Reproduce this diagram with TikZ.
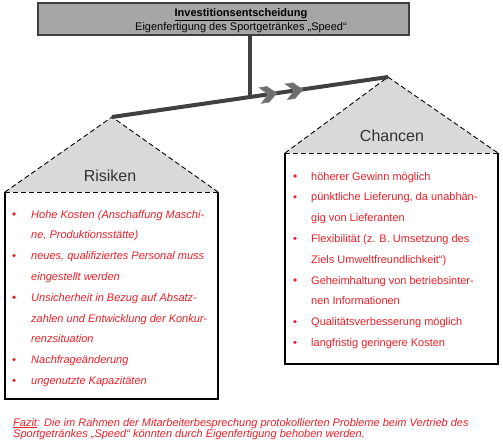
\documentclass[tikz,border=0pt]{standalone}
\usepackage{fontspec}
\setmainfont{Liberation Sans}[ItalicFont={Liberation Sans Italic}, BoldFont={Liberation Sans Bold}, BoldItalicFont={Liberation Sans Bold Italic}]
\definecolor{txtred}{RGB}{232,32,40}
\definecolor{levgray}{RGB}{64,64,64}
\definecolor{chevgray}{RGB}{110,110,110}
\definecolor{trigray}{RGB}{217,217,217}
\definecolor{titlegray}{RGB}{166,166,166}
\definecolor{labgray}{RGB}{50,50,50}
\begin{document}
\begin{tikzpicture}[x=1pt,y=-1pt,
  lever/.style={line width=4pt, draw=levgray},
  chevron/.style={fill=chevgray, draw=chevgray!80!white, line width=0.4pt},
  titlebox/.style={draw=levgray, line width=1.5pt, fill=titlegray, inner sep=0pt},
  tri/.style={fill=trigray},
  dashedge/.style={draw=black, line width=0.9pt, dash pattern=on 5pt off 3pt},
  boxedge/.style={draw=black, line width=1.2pt},
  rtext/.style={anchor=base west, inner sep=0pt, text=txtred, font=\fontsize{11}{13}\selectfont},
  ritext/.style={rtext, font=\fontsize{11}{13}\selectfont\itshape},
  bulletdot/.style={circle, fill=txtred, inner sep=0pt, minimum size=3.6pt},
  lab/.style={anchor=base, inner sep=0pt, text=labgray, font=\fontsize{16}{18}\selectfont},
  ttext/.style={anchor=base, inner sep=0pt, text=black, font=\fontsize{11}{13}\selectfont}
  ]
\useasboundingbox (0,0) rectangle (503,445);

% title box
\node[titlebox, minimum width=371pt, minimum height=32pt] (title) at (223.5,19) {};
\node[ttext, font=\fontsize{11}{13}\selectfont\bfseries] (t1) at (241,16) {\underline{Investitionsentscheidung}};
\node[ttext] (t2) at (241,30) {Eigenfertigung des Sportgetränkes „Speed“};

% lever coordinates
\coordinate (L) at (112,117);
\coordinate (R) at (388,77);
\coordinate (J) at (250,97);

% triangles
\coordinate (LA) at (5,192);
\coordinate (LB) at (218,192);
\coordinate (RA) at (285,153);
\coordinate (RB) at (498,153);
\fill[tri] (L) -- (LA) -- (LB) -- cycle;
\fill[tri] (R) -- (RA) -- (RB) -- cycle;
\path[dashedge] (LA) -- (L) -- (LB);
\path[dashedge] (RA) -- (R) -- (RB);
\node[lab] (risiken) at (110,181) {Risiken};
\node[lab] (chancen) at (392,141) {Chancen};

% boxes
\coordinate (LC) at (5,399);
\coordinate (LD) at (218,399);
\coordinate (RC) at (285,364);
\coordinate (RD) at (498,364);
\fill[white] (LA) rectangle (LD);
\fill[white] (RA) rectangle (RD);
\path[boxedge] (LA) -- (LC) -- (LD) -- (LB);
\path[boxedge] (RA) -- (RC) -- (RD) -- (RB);
\path[dashedge] (LA) -- (LB);
\path[dashedge] (RA) -- (RB);

% lever and stem
\draw[lever] (title.south -| J) -- (J);
\draw[lever, line cap=butt] (L) -- (R);
\begin{scope}[shift={(269,94.2)}, rotate=8.25]
  \fill[chevron] (-9,-8) -- (-1,-8) -- (8,0) -- (-1,8) -- (-9,8) -- (-1,0) -- cycle;
\end{scope}
\begin{scope}[shift={(295,90.5)}, rotate=8.25]
  \fill[chevron] (-9,-8) -- (-1,-8) -- (8,0) -- (-1,8) -- (-9,8) -- (-1,0) -- cycle;
\end{scope}

% left list (Risiken)
\node[bulletdot] (lb1) at (14,214) {};
\node[bulletdot] (lb2) at (14,255.6) {};
\node[bulletdot] (lb3) at (14,297.2) {};
\node[bulletdot] (lb4) at (14,359.6) {};
\node[bulletdot] (lb5) at (14,380.4) {};
\node[ritext] (l1) at (31,218) {Hohe Kosten (Anschaffung Maschi-};
\node[ritext] (l2) at (31,238.8) {ne, Produktionsstätte)};
\node[ritext] (l3) at (31,259.6) {neues, qualifiziertes Personal muss};
\node[ritext] (l4) at (31,280.4) {eingestellt werden};
\node[ritext] (l5) at (31,301.2) {Unsicherheit in Bezug auf Absatz-};
\node[ritext] (l6) at (31,322) {zahlen und Entwicklung der Konkur-};
\node[ritext] (l7) at (31,342.8) {renzsituation};
\node[ritext] (l8) at (31,363.6) {Nachfrageänderung};
\node[ritext] (l9) at (31,384.4) {ungenutzte Kapazitäten};

% right list (Chancen)
\node[bulletdot] (rb1) at (295,176) {};
\node[bulletdot] (rb2) at (295,196.8) {};
\node[bulletdot] (rb3) at (295,238.4) {};
\node[bulletdot] (rb4) at (295,280) {};
\node[bulletdot] (rb5) at (295,321.6) {};
\node[bulletdot] (rb6) at (295,342.4) {};
\node[rtext] (r1) at (311,180) {höherer Gewinn möglich};
\node[rtext] (r2) at (311,200.8) {pünktliche Lieferung, da unabhän-};
\node[rtext] (r3) at (311,221.6) {gig von Lieferanten};
\node[rtext] (r4) at (311,242.4) {Flexibilität (z. B. Umsetzung des};
\node[rtext] (r5) at (311,263.2) {Ziels Umweltfreundlichkeit“)};
\node[rtext] (r6) at (311,284) {Geheimhaltung von betriebsinter-};
\node[rtext] (r7) at (311,304.8) {nen Informationen};
\node[rtext] (r8) at (311,325.6) {Qualitätsverbesserung möglich};
\node[rtext] (r9) at (311,346.4) {langfristig geringere Kosten};

% Fazit
\node[ritext, font=\fontsize{11}{11}\selectfont\itshape] (f1) at (13,426) {\underline{Fazit}: Die im Rahmen der Mitarbeiterbesprechung protokollierten Probleme beim Vertrieb des};
\node[ritext, font=\fontsize{11}{11}\selectfont\itshape] (f2) at (13,437) {Sportgetränkes „Speed“ könnten durch Eigenfertigung behoben werden.};
\end{tikzpicture}
\end{document}
